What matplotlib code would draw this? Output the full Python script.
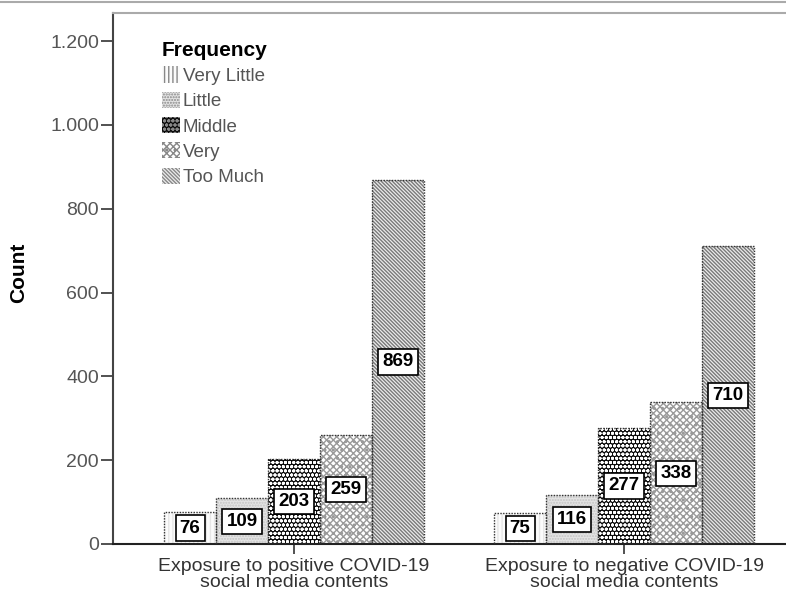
import numpy as np
import matplotlib
matplotlib.use('Agg')
from matplotlib import pyplot as plt
from matplotlib.patches import Patch
from matplotlib.lines import Line2D

plt.rcParams['font.family'] = ['Liberation Sans', 'DejaVu Sans']
plt.rcParams['hatch.linewidth'] = 1.0

groups = ['Exposure to positive COVID-19\nsocial media contents',
          'Exposure to negative COVID-19\nsocial media contents']
levels = ['Very Little', 'Little', 'Middle', 'Very', 'Too Much']
positive = [76, 109, 203, 259, 869]
negative = [75, 116, 277, 338, 710]
yticks = [0, 200, 400, 600, 800, 1000, 1200]
ytick_labels = ['0', '200', '400', '600', '800', '1.000', '1.200']

# face, hatch colour, hatch
styles = [
    ('#fbfbfb', '#e6e6e6', '||||'),
    ('#e4e4e4', '#c4c4c4', '......'),
    ('#0a0a0a', '#ffffff', 'oooo'),
    ('#ffffff', '#9a9a9a', 'xxxxx..'),
    ('#ececec', '#7a7a7a', '\\' * 9),
]

fig = plt.figure(figsize=(7.86, 5.96), dpi=100)
ax = fig.add_axes([113 / 786, 52 / 596, 692 / 786, 531 / 596])

x = np.arange(len(groups))
w = 0.1576
for i, lvl in enumerate(levels):
    vals = [positive[i], negative[i]]
    pos = x + (i - 2) * w
    face, hcol, hatch = styles[i]
    ax.bar(pos, vals, w, color=face, edgecolor=hcol, hatch=hatch, linewidth=0, zorder=2)
    ax.bar(pos, vals, w, fill=False, edgecolor='#333333', linewidth=1.0,
           linestyle=(0, (1, 1)), zorder=3)
    for px, v in zip(pos, vals):
        ax.text(px, v / 2, str(v), ha='center', va='center', fontsize=13.5,
                fontweight='bold', zorder=5,
                bbox=dict(boxstyle='square,pad=0.22', fc='white', ec='black', lw=1.2))

ax.set_xlim(-0.5485, 1.548)
ax.set_ylim(0, 1267)
ax.set_yticks(yticks)
ax.set_yticklabels(ytick_labels)
ax.set_xticks(x)
ax.set_xticklabels(groups, fontsize=14, color='#333333', linespacing=0.95)
ax.tick_params(axis='y', labelsize=14, labelcolor='#555555', length=9, width=1.2,
               color='#333333', pad=1)
ax.tick_params(axis='x', length=7, width=1.2, color='#333333', pad=3)
ax.set_ylabel('Count', fontsize=15, fontweight='bold')
ax.yaxis.set_label_coords(-0.122, 0.51)

ax.spines['right'].set_visible(False)
ax.spines['top'].set_color('#aaaaaa')
ax.spines['top'].set_linewidth(1.5)
ax.spines['left'].set_color('#444444')
ax.spines['left'].set_linewidth(1.5)
ax.spines['bottom'].set_color('#222222')
ax.spines['bottom'].set_linewidth(1.5)

handles = [Patch(facecolor=s[0], edgecolor=s[1], hatch=s[2], linewidth=0) for s in styles]
leg = ax.legend(handles, levels, title='Frequency', loc='upper left',
                bbox_to_anchor=(0.06, 0.962), frameon=False, fontsize=13.5,
                title_fontproperties={'weight': 'bold', 'size': 15},
                handlelength=0.95, handleheight=0.95, handletextpad=0.15,
                labelspacing=0.36, borderaxespad=0)
leg._legend_box.align = 'left'
for t in leg.get_texts():
    t.set_color('#555555')
for h in leg.legend_handles:
    h.set_edgecolor('#888888')

fig.add_artist(Line2D([0, 1], [1 - 2 / 596, 1 - 2 / 596], color='#aaaaaa', lw=1.5))

fig.savefig('out.png', dpi=100)
